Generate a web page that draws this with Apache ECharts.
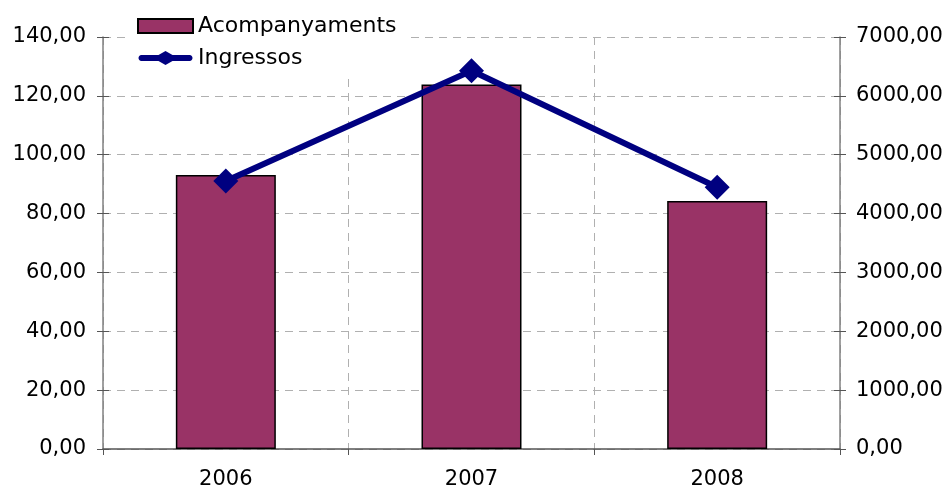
<!DOCTYPE html>
<html>
<head>
<meta charset="utf-8">
<script src="https://cdn.jsdelivr.net/npm/echarts@6/dist/echarts.min.js"></script>
<style>
html,body{margin:0;padding:0;background:#fff;}
#c{width:951px;height:492px;}
</style>
</head>
<body>
<div id="c"></div>
<script>
const categories = ['2006', '2007', '2008'];
const acompanyaments = [93.1, 123.9, 84.3];
const ingressos = [4553, 6428, 4446];
const leftTicks = [0, 20, 140];
const rightTicks = [0, 1000, 7000];

const FONT = 'DejaVu Sans';
const fmt = v => v.toFixed(2).replace('.', ',');
const chart = echarts.init(document.getElementById('c'), null, {renderer: 'canvas'});
const tickOnly = (pos, idx) => ({
  type: 'value',
  min: idx === 0 ? leftTicks[0] : rightTicks[0],
  max: idx === 0 ? leftTicks[2] : rightTicks[2],
  interval: idx === 0 ? leftTicks[1] : rightTicks[1],
  position: pos,
  offset: 0,
  axisLine: {show: false},
  axisTick: {show: true, inside: true, length: 6, lineStyle: {color: '#555'}},
  axisLabel: {show: false},
  splitLine: {show: false}
});
const lineIcon = 'path://M3,4 L20,4 L27,0 L34,4 L51,4 C53,4 54,5.5 54,7 C54,8.5 53,10 51,10 L34,10 L27,14 L20,10 L3,10 C1,10 0,8.5 0,7 C0,5.5 1,4 3,4 Z';
chart.setOption({
  animation: false,
  backgroundColor: '#fff',
  textStyle: {fontFamily: FONT},
  grid: {left: 103, right: 111, top: 37, bottom: 43, containLabel: false},
  legend: {
    orient: 'vertical',
    left: 131,
    top: 9,
    padding: [5, 10, 5, 6],
    backgroundColor: '#fff',
    itemWidth: 55,
    itemHeight: 14,
    itemGap: 8,
    textStyle: {fontFamily: FONT, fontSize: 22, color: '#000', lineHeight: 24},
    data: [{name: 'Acompanyaments', icon: 'rect'}, {name: 'Ingressos', icon: lineIcon}]
  },
  xAxis: {
    type: 'category',
    data: categories,
    boundaryGap: true,
    axisLine: {show: true, lineStyle: {color: '#555', width: 1.5}},
    axisTick: {show: true, length: 6, lineStyle: {color: '#555'}},
    axisLabel: {fontFamily: FONT, fontSize: 21, color: '#000', margin: 20},
    splitLine: {show: true, lineStyle: {color: '#b0b0b0', type: [8, 6], width: 1}}
  },
  yAxis: [
    {
      type: 'value',
      min: leftTicks[0], max: leftTicks[2], interval: leftTicks[1],
      position: 'left',
      offset: 0,
      axisLine: {show: true, lineStyle: {color: '#808080', width: 1.5}},
      axisTick: {show: true, length: 6, lineStyle: {color: '#555'}},
      axisLabel: {fontFamily: FONT, fontSize: 21, color: '#000', margin: 17, formatter: fmt},
      splitLine: {show: true, lineStyle: {color: '#b0b0b0', type: [8, 6], width: 1}}
    },
    {
      type: 'value',
      min: rightTicks[0], max: rightTicks[2], interval: rightTicks[1],
      position: 'right',
      offset: 0,
      axisLine: {show: true, lineStyle: {color: '#808080', width: 1.5}},
      axisTick: {show: true, length: 6, lineStyle: {color: '#555'}},
      axisLabel: {fontFamily: FONT, fontSize: 21, color: '#000', margin: 16, formatter: fmt},
      splitLine: {show: false}
    },
    tickOnly('left', 0),
    tickOnly('right', 1)
  ],
  series: [
    {
      name: 'Acompanyaments',
      type: 'bar',
      yAxisIndex: 0,
      data: acompanyaments,
      barWidth: '40.7%',
      itemStyle: {color: '#993366', borderColor: '#000', borderWidth: 1.5}
    },
    {
      name: 'Ingressos',
      type: 'line',
      yAxisIndex: 1,
      data: ingressos,
      symbol: 'diamond',
      symbolSize: 25,
      z: 5,
      lineStyle: {color: '#000080', width: 6},
      itemStyle: {color: '#000080'}
    }
  ]
});
</script>
</body>
</html>
